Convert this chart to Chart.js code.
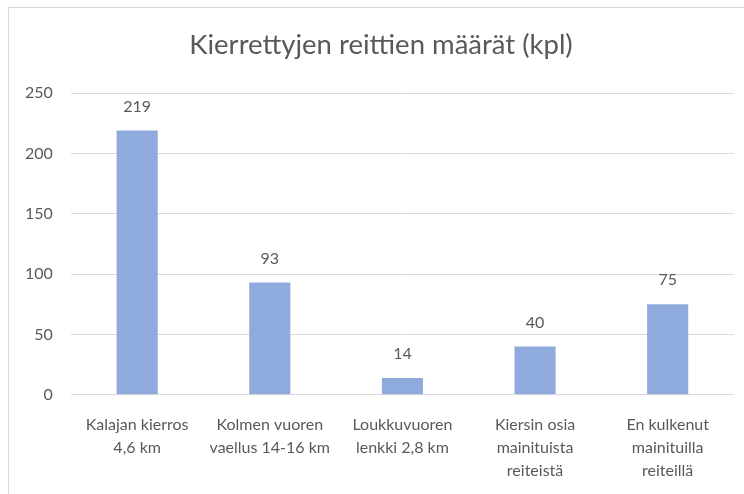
<!DOCTYPE html>
<html>
<head>
<meta charset="utf-8">
<script src="https://cdn.jsdelivr.net/npm/chart.js@4.4.0/dist/chart.umd.min.js"></script>
<style>
  html, body { margin: 0; padding: 0; background: #fff; }
  #wrap { position: relative; width: 744px; height: 494px; }
  #frame { position: absolute; left: 8px; top: 7px; right: -2px; bottom: -2px;
           border-left: 1px solid #d9d9d9; border-top: 1px solid #d9d9d9; }
  canvas { position: absolute; left: 0; top: 0; }
</style>
</head>
<body>
<div id="wrap">
  <div id="frame"></div>
  <canvas id="chart" width="744" height="494"></canvas>
</div>
<script>
// chart data
const titleText = 'Kierrettyjen reittien määrät (kpl)';
const categories = [
    ['Kalajan kierros', '4,6 km'],
    ['Kolmen vuoren', 'vaellus 14-16 km'],
    ['Loukkuvuoren', 'lenkki 2,8 km'],
    ['Kiersin osia', 'mainituista', 'reiteistä'],
    ['En kulkenut', 'mainituilla', 'reiteillä']
];
const values = [219, 93, 14, 40, 75];
const yTicks = [0, 50, 100, 150, 200, 250];

const textColor = '#595959';
const fontFamily = 'Lato, "Open Sans", sans-serif';

// title is drawn by hand: the frame it belongs to runs past the right edge
const chartTitle = {
    id: 'chartTitle',
    afterDraw(chart) {
        const ctx = chart.ctx;
        ctx.save();
        ctx.fillStyle = textColor;
        ctx.font = '27.5px ' + fontFamily;
        ctx.textAlign = 'center';
        ctx.textBaseline = 'middle';
        ctx.fillText(titleText, 381, 45);
        ctx.restore();
    }
};

// draw the value above each bar
const valueLabels = {
    id: 'valueLabels',
    afterDatasetsDraw(chart) {
        const ctx = chart.ctx;
        const meta = chart.getDatasetMeta(0);
        ctx.save();
        ctx.fillStyle = textColor;
        ctx.font = '16px ' + fontFamily;
        ctx.textAlign = 'center';
        ctx.textBaseline = 'bottom';
        meta.data.forEach((bar, i) => {
            ctx.fillText(String(values[i]), bar.x, bar.y - 16);
        });
        ctx.restore();
    }
};

const ctx = document.getElementById('chart').getContext('2d');
new Chart(ctx, {
    type: 'bar',
    data: {
        labels: categories,
        datasets: [{
            data: values,
            backgroundColor: '#8faadc',
            categoryPercentage: 1,
            barPercentage: 0.31
        }]
    },
    options: {
        responsive: false,
        animation: false,
        layout: { padding: { left: 7, right: 10, top: 93, bottom: 1 } },
        plugins: {
            legend: { display: false },
            tooltip: { enabled: false },
            title: { display: false }
        },
        scales: {
            x: {
                grid: { display: false },
                border: { display: false },
                ticks: {
                    color: textColor,
                    font: { family: fontFamily, size: 16, lineHeight: 1.42 },
                    maxRotation: 0,
                    autoSkip: false,
                    padding: 11
                }
            },
            y: {
                min: 0,
                max: 250,
                afterBuildTicks(axis) { axis.ticks = yTicks.map(v => ({ value: v })); },
                grid: { color: '#d9d9d9', drawTicks: false },
                border: { display: false },
                ticks: {
                    color: textColor,
                    font: { family: fontFamily, size: 16 },
                    padding: 18
                }
            }
        }
    },
    plugins: [valueLabels, chartTitle]
});
</script>
</body>
</html>
